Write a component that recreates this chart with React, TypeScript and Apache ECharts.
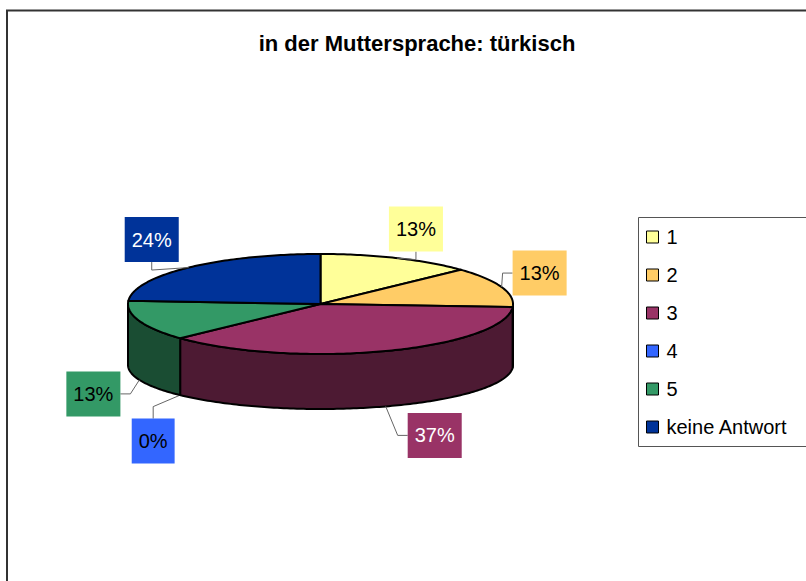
import React, { useEffect, useRef } from 'react';
import * as echarts from 'echarts';

// ---- data ----
const categories = ['1', '2', '3', '4', '5', 'keine Antwort'];
const percentValues = [13, 13, 37, 0, 13, 24];
const sliceColors = ['#FFFF99', '#FFCC66', '#993366', '#3366FF', '#339966', '#003399'];
const labelTextColors = ['#000000', '#000000', '#FFFFFF', '#000000', '#000000', '#FFFFFF'];
const titleText = 'in der Muttersprache: türkisch';

// ---- layout ----
const PIE = { cx: 320.5, topCy: 304, topRy: 50, botCy: 365, botRy: 44, rx: 192.5 };
const labelOffsets = [[19, -29], [38, -14], [49, 29], [-27, 46], [-46, 14], [-37, -28]];
const leaderSides = ['bottom', 'left', 'left', 'top', 'right', 'bottom'];
const FONT = '"Liberation Sans", Arial, Helvetica, sans-serif';
const LABEL_FONT = `20px ${FONT}`;

function shade(hex: string, f: number) {
  const n = parseInt(hex.slice(1), 16);
  const r = Math.round(((n >> 16) & 255) * f);
  const g = Math.round(((n >> 8) & 255) * f);
  const b = Math.round((n & 255) * f);
  return `rgb(${r},${g},${b})`;
}

let measureCtx: CanvasRenderingContext2D | null = null;
function textWidth(t: string, font: string) {
  if (!measureCtx) measureCtx = document.createElement('canvas').getContext('2d');
  if (!measureCtx) return t.length * 11;
  measureCtx.font = font;
  return measureCtx.measureText(t).width;
}

function topPt(t: number) {
  return [PIE.cx + PIE.rx * Math.cos(t), PIE.topCy - PIE.topRy * Math.sin(t)];
}
function botPt(t: number) {
  return [PIE.cx + PIE.rx * Math.cos(t), PIE.botCy - PIE.botRy * Math.sin(t)];
}
function arcPts(fn: (t: number) => number[], a: number, b: number) {
  const steps = Math.max(2, Math.ceil(Math.abs(b - a) / (Math.PI / 180)));
  const pts: number[][] = [];
  for (let k = 0; k <= steps; k++) pts.push(fn(a + ((b - a) * k) / steps));
  return pts;
}
function toPath(pts: number[][], close: boolean) {
  return pts.map((p, i) => `${i ? 'L' : 'M'}${p[0].toFixed(2)},${p[1].toFixed(2)}`).join(' ') + (close ? ' Z' : '');
}

function makeRenderItem(i: number) {
  return (_params: any, api: any) => {
    const total = percentValues.reduce((s, v) => s + v, 0);
    const startFrac = percentValues.slice(0, i).reduce((s, v) => s + v, 0) / total;
    const value = api.value(0) as number;
    const frac = value / total;
    const t0 = Math.PI / 2 - 2 * Math.PI * startFrac;
    const t1 = Math.PI / 2 - 2 * Math.PI * (startFrac + frac);
    const children: any[] = [];
    const color = sliceColors[i];

    if (frac > 0) {
      // side wall (front half only)
      const a = Math.max(t1, -Math.PI);
      const b = Math.min(t0, 0);
      if (a < b) {
        const pts = arcPts(topPt, b, a).concat(arcPts(botPt, a, b));
        children.push({
          type: 'path',
          shape: { pathData: toPath(pts, true) },
          style: { fill: shade(color, 0.5), stroke: '#000', lineWidth: 2, lineJoin: 'round' },
        });
      }
      // top face
      const topPts = [[PIE.cx, PIE.topCy]].concat(arcPts(topPt, t0, t1));
      children.push({
        type: 'path',
        shape: { pathData: toPath(topPts, true) },
        style: { fill: color, stroke: '#000', lineWidth: 2, lineJoin: 'round' },
      });
    }

    // label
    const tm = Math.PI / 2 - 2 * Math.PI * (startFrac + frac / 2);
    const anchor = Math.sin(tm) < 0 ? botPt(tm) : topPt(tm);
    const bx = anchor[0] + labelOffsets[i][0];
    const by = anchor[1] + labelOffsets[i][1];
    const txt = `${Math.round(frac * 100)}%`;
    const w = textWidth(txt, LABEL_FONT) + 14;
    const h = 45;
    let edge: number[] = [bx, by + h / 2];
    let elbow: number[] = [bx, by + h / 2 + 8];
    const side = leaderSides[i];
    if (side === 'left') { edge = [bx - w / 2, by]; elbow = [bx - w / 2 - 10, by]; }
    else if (side === 'right') { edge = [bx + w / 2, by]; elbow = [bx + w / 2 + 10, by]; }
    else if (side === 'top') { edge = [bx, by - h / 2]; elbow = [bx, by - h / 2 - 12]; }
    children.push({
      type: 'polyline',
      shape: { points: [edge, elbow, anchor] },
      style: { stroke: '#666', lineWidth: 1, fill: null },
    });
    children.push({
      type: 'rect',
      shape: { x: bx - w / 2, y: by - h / 2, width: w, height: h },
      style: { fill: color },
    });
    children.push({
      type: 'text',
      style: {
        text: txt, x: bx, y: by, align: 'center', verticalAlign: 'middle',
        font: LABEL_FONT, fill: labelTextColors[i],
      },
    });
    return { type: 'group', children };
  };
}

export default function App() {
  const ref = useRef<HTMLDivElement>(null);
  useEffect(() => {
    if (!ref.current) return;
    const chart = echarts.init(ref.current, undefined, { renderer: 'svg' });
    chart.setOption({
      animation: false,
      backgroundColor: '#ffffff',
      color: sliceColors,
      title: {
        text: titleText,
        left: 412,
        textAlign: 'center',
        top: 27,
        textStyle: { fontFamily: FONT, fontSize: 22, fontWeight: 'bold', color: '#000' },
      },
      legend: {
        data: categories,
        orient: 'vertical',
        left: 638,
        top: 217,
        padding: [10, 10, 11, 8],
        borderWidth: 0,
        itemWidth: 12,
        itemHeight: 12,
        itemGap: 18,
        icon: 'rect',
        selectedMode: false,
        itemStyle: { borderColor: '#000', borderWidth: 1 },
        textStyle: { fontFamily: FONT, fontSize: 20, color: '#000', padding: [0, 0, 0, 3] },
      },
      graphic: [
        {
          type: 'rect',
          shape: { x: 7, y: 10.5, width: 900, height: 700 },
          style: { fill: 'none', stroke: '#333', lineWidth: 2 },
          z: -10,
          silent: true,
        },
        {
          type: 'rect',
          shape: { x: 638.5, y: 217.5, width: 220, height: 229 },
          style: { fill: '#fff', stroke: '#555', lineWidth: 1 },
          z: -5,
          silent: true,
        },
      ],
      series: categories.map((name, i) => ({
        type: 'custom',
        name,
        coordinateSystem: 'none',
        data: [[percentValues[i]]],
        itemStyle: { color: sliceColors[i] },
        renderItem: makeRenderItem(i),
        silent: true,
      })),
    });
    return () => chart.dispose();
  }, []);
  return (
    <div
      ref={ref}
      style={{ position: 'absolute', left: 0, top: 0, width: 806, height: 581 }}
    />
  );
}
